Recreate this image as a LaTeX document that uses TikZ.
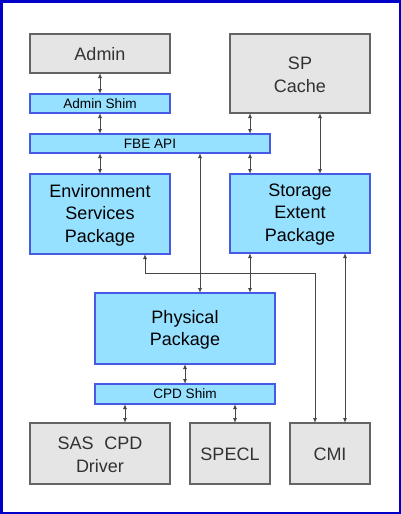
\documentclass[tikz,border=0pt]{standalone}
\usepackage{fontspec}
\setmainfont{Liberation Sans}
\usetikzlibrary{arrows.meta}
\definecolor{bluefill}{RGB}{150,225,255}
\definecolor{blueline}{RGB}{70,90,230}
\definecolor{grayfill}{RGB}{229,229,229}
\definecolor{grayline}{RGB}{100,100,100}
\definecolor{frameblue}{RGB}{0,0,200}
\definecolor{conn}{RGB}{70,70,70}
\definecolor{graytext}{RGB}{50,50,50}
\begin{document}
\begin{tikzpicture}[x=1pt,y=-1pt,
  bluebox/.style={draw=blueline,fill=bluefill,line width=1.2pt},
  graybox/.style={draw=grayline,fill=grayfill,line width=1.2pt},
  bigtext/.style={font=\fontsize{18}{22.5}\selectfont,align=center},
  smalltext/.style={font=\fontsize{13.6}{16}\selectfont,align=center},
  link/.style={draw=conn,line width=0.9pt,{Latex[length=5pt,width=4pt]}-{Latex[length=5pt,width=4pt]}}]
\useasboundingbox (0,0) rectangle (401,514);
\draw[frameblue,line width=2.5pt,fill=white] (1.25,1.25) rectangle (399.75,512.75);
% boxes
\draw[graybox] (30,34) rectangle (170,73);
\node[bigtext,text=graytext] (admin) at (100,54.5) {Admin};
\draw[graybox] (230,34) rectangle (370,113);
\node[bigtext,text=graytext] (spc) at (300,75) {SP\\Cache};
\draw[bluebox] (30,94) rectangle (170,113);
\node[smalltext] (ashim) at (100,103.5) {Admin Shim};
\draw[bluebox] (30,134) rectangle (270,153);
\node[smalltext] (fbe) at (150,143.5) {FBE API};
\draw[bluebox] (30,174) rectangle (170,254);
\node[bigtext] (env) at (100,215) {Environment\\Services\\Package};
\draw[bluebox] (230,174) rectangle (370,253);
\node[bigtext] (sep) at (300,214.5) {Storage\\Extent\\Package};
\draw[bluebox] (95,293) rectangle (275,364);
\node[bigtext] (phys) at (185,330) {Physical\\Package};
\draw[bluebox] (95,384) rectangle (275,404);
\node[smalltext] (cshim) at (185,394) {CPD Shim};
\draw[graybox] (30,423) rectangle (170,484);
\node[bigtext,text=graytext] (sas) at (100,455) {SAS\hspace{0.6em}CPD\\Driver};
\draw[graybox] (190,423) rectangle (270,484);
\node[bigtext,text=graytext] (specl) at (230,454.5) {SPECL};
\draw[graybox] (290,423) rectangle (370,484);
\node[bigtext,text=graytext] (cmi) at (330,454.5) {CMI};
% connection points
\coordinate (a1) at (100,73); \coordinate (a2) at (100,94);
\coordinate (a3) at (100,113); \coordinate (a4) at (100,134);
\coordinate (a5) at (100,153); \coordinate (a6) at (100,174);
\coordinate (s1) at (250,113); \coordinate (s2) at (250,134);
\coordinate (s3) at (250,153); \coordinate (s4) at (250,174);
\coordinate (c1) at (320,113); \coordinate (c2) at (320,174);
\coordinate (f1) at (200,153); \coordinate (f2) at (200,293);
\coordinate (p1) at (250,253); \coordinate (p2) at (250,293);
\coordinate (e1) at (145,254); \coordinate (e2) at (145,273);
\coordinate (e3) at (315,273); \coordinate (e4) at (315,423);
\coordinate (m1) at (345,253); \coordinate (m2) at (345,423);
\coordinate (d1) at (185,364); \coordinate (d2) at (185,384);
\coordinate (d3) at (125,404); \coordinate (d4) at (125,423);
\coordinate (d5) at (235,404); \coordinate (d6) at (235,423);
\draw[link] (a1) -- (a2);
\draw[link] (a3) -- (a4);
\draw[link] (a5) -- (a6);
\draw[link] (s1) -- (s2);
\draw[link] (s3) -- (s4);
\draw[link] (c1) -- (c2);
\draw[link] (f1) -- (f2);
\draw[link] (p1) -- (p2);
\draw[link] (e1) -- (e2) -- (e3) -- (e4);
\draw[link] (m1) -- (m2);
\draw[link] (d1) -- (d2);
\draw[link] (d3) -- (d4);
\draw[link] (d5) -- (d6);
\end{tikzpicture}
\end{document}
